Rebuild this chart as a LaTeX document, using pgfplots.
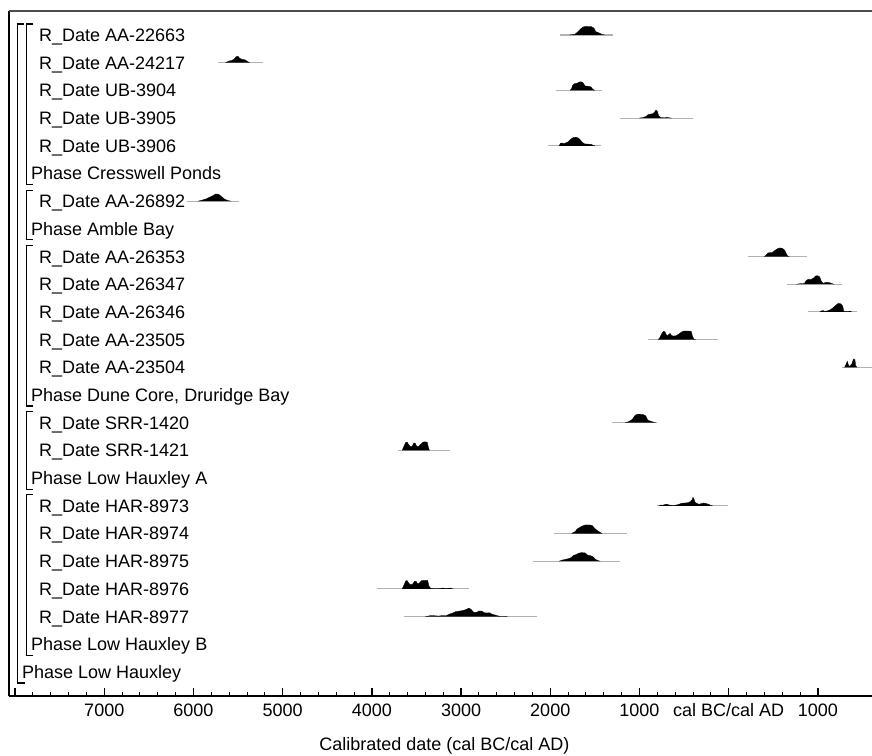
\documentclass[border=0pt]{standalone}
\usepackage{fontspec}
\setmainfont{Liberation Sans}
\usepackage{pgfplots}
\pgfplotsset{compat=1.18}
\newcommand\rlab[2]{\node[anchor=base west,inner sep=0pt] at ([xshift=30pt,yshift=-6.45pt]axis cs:-8068,#1) {#2};}
\newcommand\plab[2]{\node[anchor=base west,inner sep=0pt] at ([xshift=22pt,yshift=-6.45pt]axis cs:-8068,#1) {#2};}
\newcommand\brk[2]{\draw[line width=1.1pt] ([xshift=24pt]axis cs:-8068,#1) -- ([xshift=17.7pt]axis cs:-8068,#1) -- ([xshift=17.7pt]axis cs:-8068,#2) -- ([xshift=24pt]axis cs:-8068,#2);}
\begin{document}
\fontsize{18pt}{21pt}\selectfont
\begin{tikzpicture}
\begin{axis}[name=ax,
 scale only axis, width=863pt, height=685pt,
 xmin=-8068, xmax=1607, ymin=0.134, ymax=24.866,
 axis line style={draw=none},
 xtick={-8000,-7000,-6000,-5000,-4000,-3000,-2000,-1000,0,1000},
 xticklabels={,7000,6000,5000,4000,3000,2000,1000,cal BC/cal AD,1000},
 minor x tick num=4,
 xtick pos=bottom, ytick=\empty,
 tick align=inside,
 major tick length=8pt, minor tick length=3.5pt,
 major tick style={line width=1.3pt,black},
 minor tick style={line width=0.9pt,black},
 xticklabel style={font=\fontsize{18pt}{21pt}\selectfont, inner sep=0pt, text height=12.9pt, text depth=0pt, anchor=north, yshift=-7pt},
 clip=false,
]
% grey ranges
\addplot[black!30, line width=1.1pt] coordinates {(-1890,24) (-1300,24)};
\addplot[black!30, line width=1.1pt] coordinates {(-5725,23) (-5221,23)};
\addplot[black!30, line width=1.1pt] coordinates {(-1936,22) (-1417,22)};
\addplot[black!30, line width=1.1pt] coordinates {(-1219,21) (-404,21)};
\addplot[black!30, line width=1.1pt] coordinates {(-2026,20) (-1435,20)};
\addplot[black!30, line width=1.1pt] coordinates {(-6073,18) (-5490,18)};
\addplot[black!30, line width=1.1pt] coordinates {(220,16) (881,16)};
\addplot[black!30, line width=1.1pt] coordinates {(650,15) (1274,15)};
\addplot[black!30, line width=1.1pt] coordinates {(892,14) (1435,14)};
\addplot[black!30, line width=1.1pt] coordinates {(-901,13) (-117,13)};
\addplot[black!30, line width=1.1pt] coordinates {(1267,12) (1607,12)};
\addplot[black!30, line width=1.1pt] coordinates {(-1308,10) (-806,10)};
\addplot[black!30, line width=1.1pt] coordinates {(-3702,9) (-3121,9)};
\addplot[black!30, line width=1.1pt] coordinates {(-806,7) (-8,7)};
\addplot[black!30, line width=1.1pt] coordinates {(-1955,6) (-1137,6)};
\addplot[black!30, line width=1.1pt] coordinates {(-2188,5) (-1219,5)};
\addplot[black!30, line width=1.1pt] coordinates {(-3947,4) (-2916,4)};
\addplot[black!30, line width=1.1pt] coordinates {(-3640,3) (-2147,3)};
% distributions
\pgfplotsset{every axis plot/.append style={}}
\addplot[fill=black, draw=black, line width=0.3pt] coordinates {(-1780,24) (-1720,24.03) (-1690,24.12) (-1660,24.22) (-1630,24.29) (-1600,24.31) (-1540,24.30) (-1510,24.25) (-1490,24.12) (-1450,24.07) (-1420,24.02) (-1390,24)};
\addplot[fill=black, draw=black, line width=0.3pt] coordinates {(-5640,23) (-5600,23.06) (-5570,23.08) (-5545,23.13) (-5520,23.22) (-5500,23.23) (-5480,23.15) (-5450,23.12) (-5420,23.10) (-5395,23.04) (-5370,23)};
\addplot[fill=black, draw=black, line width=0.3pt] coordinates {(-1780,22) (-1762,22.05) (-1750,22.18) (-1730,22.24) (-1700,22.26) (-1675,22.30) (-1655,22.31) (-1635,22.28) (-1610,22.16) (-1580,22.15) (-1545,22.13) (-1525,22.05) (-1500,22)};
\addplot[fill=black, draw=black, line width=0.3pt] coordinates {(-1000,21) (-960,21.02) (-925,21.06) (-905,21.12) (-880,21.14) (-850,21.16) (-830,21.22) (-815,21.29) (-800,21.25) (-785,21.08) (-760,21.02) (-720,21.01) (-690,21.03) (-670,21.01) (-640,21)};
\addplot[fill=black, draw=black, line width=0.3pt] coordinates {(-1900,20) (-1885,20.09) (-1865,20.10) (-1850,20.07) (-1830,20.10) (-1800,20.14) (-1770,20.24) (-1740,20.30) (-1710,20.31) (-1680,20.27) (-1650,20.16) (-1620,20.07) (-1580,20.06) (-1540,20.05) (-1520,20.02) (-1500,20)};
\addplot[fill=black, draw=black, line width=0.3pt] coordinates {(-5950,18) (-5910,18.03) (-5860,18.08) (-5820,18.14) (-5780,18.20) (-5750,18.26) (-5720,18.25) (-5690,18.18) (-5650,18.07) (-5610,18.02) (-5580,18)};
\addplot[fill=black, draw=black, line width=0.3pt] coordinates {(400,16) (420,16.05) (440,16.13) (465,16.14) (490,16.15) (510,16.20) (540,16.27) (570,16.31) (600,16.30) (625,16.24) (645,16.12) (660,16.02) (680,16)};
\addplot[fill=black, draw=black, line width=0.3pt] coordinates {(760,15) (800,15.02) (850,15.03) (870,15.14) (895,15.18) (920,15.17) (950,15.22) (975,15.30) (995,15.31) (1020,15.27) (1040,15.10) (1060,15.03) (1090,15.07) (1130,15.06) (1160,15.02) (1180,15)};
\addplot[fill=black, draw=black, line width=0.3pt] coordinates {(1020,14) (1040,14.04) (1060,14.05) (1080,14.02) (1110,14.04) (1140,14.08) (1170,14.15) (1200,14.24) (1230,14.31) (1260,14.29) (1280,14.20) (1290,14.03) (1320,14.01) (1360,14.03) (1380,14)};
\addplot[fill=black, draw=black, line width=0.3pt] coordinates {(-790,13) (-770,13.08) (-750,13.22) (-730,13.30) (-715,13.29) (-700,13.18) (-685,13.13) (-670,13.20) (-655,13.22) (-640,13.15) (-620,13.13) (-590,13.14) (-560,13.20) (-530,13.27) (-505,13.31) (-450,13.31) (-420,13.30) (-405,13.12) (-390,13.02) (-370,13)};
\addplot[fill=black, draw=black, line width=0.3pt] coordinates {(1300,12) (1315,12.10) (1330,12.22) (1345,12.06) (1360,12.04) (1380,12.12) (1400,12.30) (1415,12.28) (1425,12.05) (1440,12)};
\addplot[fill=black, draw=black, line width=0.3pt] coordinates {(-1160,10) (-1130,10.03) (-1100,10.08) (-1080,10.12) (-1060,10.22) (-1040,10.29) (-1010,10.31) (-960,10.30) (-930,10.25) (-905,10.09) (-870,10.05) (-840,10.02) (-820,10)};
\addplot[fill=black, draw=black, line width=0.3pt] coordinates {(-3660,9) (-3645,9.12) (-3620,9.29) (-3605,9.30) (-3590,9.22) (-3570,9.15) (-3550,9.14) (-3530,9.26) (-3515,9.27) (-3500,9.16) (-3480,9.13) (-3460,9.20) (-3430,9.29) (-3410,9.31) (-3380,9.30) (-3365,9.10) (-3355,9)};
\addplot[fill=black, draw=black, line width=0.3pt] coordinates {(-780,7) (-760,7.03) (-740,7.02) (-715,7.05) (-690,7.06) (-670,7.03) (-640,7.02) (-600,7.02) (-560,7.05) (-530,7.09) (-500,7.10) (-460,7.11) (-430,7.15) (-410,7.22) (-400,7.31) (-390,7.25) (-375,7.12) (-350,7.08) (-330,7.05) (-310,7.08) (-280,7.10) (-250,7.08) (-220,7.05) (-200,7.01) (-180,7)};
\addplot[fill=black, draw=black, line width=0.3pt] coordinates {(-1760,6) (-1740,6.04) (-1720,6.07) (-1700,6.16) (-1670,6.22) (-1640,6.27) (-1610,6.31) (-1560,6.31) (-1530,6.29) (-1500,6.18) (-1470,6.10) (-1440,6.04) (-1420,6)};
\addplot[fill=black, draw=black, line width=0.3pt] coordinates {(-1900,5) (-1870,5.04) (-1840,5.06) (-1800,5.09) (-1770,5.12) (-1740,5.21) (-1710,5.24) (-1680,5.29) (-1650,5.31) (-1610,5.30) (-1580,5.22) (-1550,5.20) (-1520,5.16) (-1490,5.06) (-1460,5.02) (-1440,5)};
\addplot[fill=black, draw=black, line width=0.3pt] coordinates {(-3660,4) (-3640,4.14) (-3620,4.29) (-3605,4.30) (-3585,4.20) (-3565,4.15) (-3545,4.17) (-3520,4.27) (-3505,4.28) (-3490,4.19) (-3470,4.20) (-3445,4.30) (-3420,4.31) (-3375,4.31) (-3360,4.10) (-3340,4.02) (-3250,4.01) (-3210,4.03) (-3170,4.02) (-3120,4.03) (-3090,4)};
\addplot[fill=black, draw=black, line width=0.3pt] coordinates {(-3400,3) (-3370,3.02) (-3330,3.04) (-3290,3.03) (-3250,3.02) (-3210,3.04) (-3170,3.03) (-3130,3.09) (-3100,3.12) (-3060,3.18) (-3020,3.20) (-2980,3.22) (-2940,3.26) (-2910,3.31) (-2885,3.25) (-2860,3.16) (-2830,3.15) (-2800,3.20) (-2770,3.20) (-2740,3.14) (-2710,3.13) (-2680,3.14) (-2650,3.08) (-2620,3.06) (-2590,3.03) (-2560,3.01) (-2500,3.01) (-2480,3)};
% frame
\draw[line width=1.6pt] (rel axis cs:0,0) -- (rel axis cs:1,0);
\draw[line width=1.3pt] (rel axis cs:0,0) -- (rel axis cs:0,1);
\draw[line width=2.2pt, black!70] (rel axis cs:0,1) -- (rel axis cs:1,1);
% brackets
\brk{24.397}{18.603}
\brk{18.397}{16.603}
\brk{16.397}{10.603}
\brk{10.397}{7.603}
\brk{7.397}{1.603}
\draw[line width=1.1pt] ([xshift=15pt]axis cs:-8068,24.397) -- ([xshift=8.3pt]axis cs:-8068,24.397) -- ([xshift=8.3pt]axis cs:-8068,0.603) -- ([xshift=16pt]axis cs:-8068,0.603);
% labels
\rlab{24}{R\_Date AA-22663}
\rlab{23}{R\_Date AA-24217}
\rlab{22}{R\_Date UB-3904}
\rlab{21}{R\_Date UB-3905}
\rlab{20}{R\_Date UB-3906}
\plab{19}{Phase Cresswell Ponds}
\rlab{18}{R\_Date AA-26892}
\plab{17}{Phase Amble Bay}
\rlab{16}{R\_Date AA-26353}
\rlab{15}{R\_Date AA-26347}
\rlab{14}{R\_Date AA-26346}
\rlab{13}{R\_Date AA-23505}
\rlab{12}{R\_Date AA-23504}
\plab{11}{Phase Dune Core, Druridge Bay}
\rlab{10}{R\_Date SRR-1420}
\rlab{9}{R\_Date SRR-1421}
\plab{8}{Phase Low Hauxley A}
\rlab{7}{R\_Date HAR-8973}
\rlab{6}{R\_Date HAR-8974}
\rlab{5}{R\_Date HAR-8975}
\rlab{4}{R\_Date HAR-8976}
\rlab{3}{R\_Date HAR-8977}
\plab{2}{Phase Low Hauxley B}
\node[anchor=base west,inner sep=0pt] at ([xshift=13pt,yshift=-6.45pt]axis cs:-8068,1) {Phase Low Hauxley};
\node[anchor=base,inner sep=0pt] at ([yshift=-55pt]axis cs:-3186,0.134) {Calibrated date (cal BC/cal AD)};
\end{axis}
\pgfresetboundingbox
\path[use as bounding box] ([xshift=-9pt,yshift=-60pt]ax.south west) rectangle ([yshift=11pt]ax.north east);
\end{tikzpicture}
\end{document}
